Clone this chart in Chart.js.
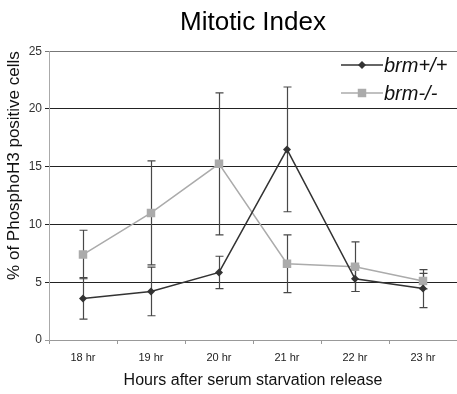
<!DOCTYPE html>
<html>
<head>
<meta charset="utf-8">
<title>Mitotic Index</title>
<script src="https://cdn.jsdelivr.net/npm/chart.js@4/dist/chart.umd.min.js"></script>
<style>
  body { margin: 0; background: #fff; }
  canvas { display: block; }
</style>
</head>
<body>
<canvas id="mitoticChart" width="457" height="394"></canvas>
<script>
// values
const hours = ['18 hr', '19 hr', '20 hr', '21 hr', '22 hr', '23 hr'];
const wildType = [3.6, 4.2, 5.85, 16.5, 5.3, 4.45];
const wildTypeErr = [1.8, 2.1, 1.4, 5.4, 1.1, 1.65];
const mutant = [7.4, 11.0, 15.25, 6.6, 6.35, 5.1];
const mutantErr = [2.1, 4.5, 6.15, 2.5, 2.15, 0.67];
const yTicks = [0, 5, 10, 15, 20, 25];

const FONT = "'Liberation Sans', Arial, sans-serif";

// error bars, drawn under the markers
const errorBars = {
  id: 'errorBars',
  beforeDatasetsDraw(chart) {
    const ctx = chart.ctx;
    const y = chart.scales.y;
    ctx.save();
    ctx.lineWidth = 1.2;
    ctx.strokeStyle = '#484848';
    chart.data.datasets.forEach((ds, di) => {
      const meta = chart.getDatasetMeta(di);
      meta.data.forEach((pt, i) => {
        const e = ds.errors[i];
        const top = y.getPixelForValue(ds.data[i] + e);
        const bot = y.getPixelForValue(ds.data[i] - e);
        const x = Math.round(pt.x) + 0.5;
        ctx.beginPath();
        ctx.moveTo(x, top);
        ctx.lineTo(x, bot);
        ctx.moveTo(x - 4, top);
        ctx.lineTo(x + 4, top);
        ctx.moveTo(x - 4, bot);
        ctx.lineTo(x + 4, bot);
        ctx.stroke();
      });
    });
    ctx.restore();
  }
};

// legend sits inside the plot, top right
const insideLegend = {
  id: 'insideLegend',
  afterDraw(chart) {
    const ctx = chart.ctx;
    ctx.save();
    chart.data.datasets.forEach((ds, i) => {
      const yy = 65 + i * 28;
      ctx.strokeStyle = ds.borderColor;
      ctx.lineWidth = 1.5;
      ctx.beginPath();
      ctx.moveTo(341, yy);
      ctx.lineTo(383, yy);
      ctx.stroke();
      ctx.fillStyle = ds.backgroundColor;
      Chart.helpers.drawPoint(ctx, { pointStyle: ds.pointStyle, radius: ds.pointRadius, borderWidth: 0 }, 362, yy);
      ctx.fillStyle = '#111';
      ctx.font = 'italic 20px ' + FONT;
      ctx.textBaseline = 'middle';
      ctx.textAlign = 'left';
      ctx.fillText(ds.label, 384, yy + 1);
    });
    ctx.restore();
  }
};

new Chart(document.getElementById('mitoticChart'), {
  type: 'line',
  data: {
    labels: hours,
    datasets: [
      {
        label: 'brm+/+',
        data: wildType,
        errors: wildTypeErr,
        borderColor: '#333333',
        backgroundColor: '#333333',
        borderWidth: 1.5,
        pointStyle: 'rectRot',
        pointRadius: 4,
        pointBorderWidth: 0
      },
      {
        label: 'brm-/-',
        data: mutant,
        errors: mutantErr,
        borderColor: '#ababab',
        backgroundColor: '#ababab',
        borderWidth: 1.5,
        pointStyle: 'rect',
        pointRadius: 6,
        pointBorderWidth: 0
      }
    ]
  },
  options: {
    responsive: false,
    animation: false,
    devicePixelRatio: 1,
    layout: { padding: 0, autoPadding: false },
    plugins: {
      legend: { display: false },
      tooltip: { enabled: false },
      title: {
        display: true,
        fullSize: false,
        text: 'Mitotic Index',
        color: '#000',
        font: { family: FONT, size: 26, weight: 'normal' },
        padding: { top: 7, bottom: 13 }
      }
    },
    scales: {
      x: {
        offset: true,
        afterFit(scale) {
          scale.height = 54;
          scale.paddingLeft = 0;
          scale.paddingRight = 0;
        },
        grid: { display: true, offset: true, drawOnChartArea: false, drawTicks: true, tickLength: 4, color: '#999' },
        border: { color: '#999' },
        ticks: { color: '#222', padding: 7, font: { family: FONT, size: 11 } },
        title: {
          display: true,
          text: 'Hours after serum starvation release',
          color: '#111',
          font: { family: FONT, size: 16 },
          padding: { top: 0, bottom: 4 }
        }
      },
      y: {
        min: 0,
        max: 25,
        afterFit(scale) {
          scale.width = 49;
          scale.paddingTop = 0;
          scale.paddingBottom = 0;
        },
        afterBuildTicks(scale) { scale.ticks = yTicks.map(v => ({ value: v })); },
        grid: {
          drawTicks: true,
          tickLength: 4,
          color(c) {
            if (c.tick.value === 0) return '#999';
            if (c.tick.value === 25) return '#777';
            return '#222';
          }
        },
        border: { color: '#aaa' },
        ticks: { color: '#333', padding: 3, font: { family: FONT, size: 12 } },
        title: {
          display: true,
          text: '% of PhosphoH3 positive cells',
          align: 'end',
          color: '#111',
          font: { family: FONT, size: 17 },
          padding: { top: 4, bottom: 0 }
        }
      }
    }
  },
  plugins: [errorBars, insideLegend]
});
</script>
</body>
</html>
